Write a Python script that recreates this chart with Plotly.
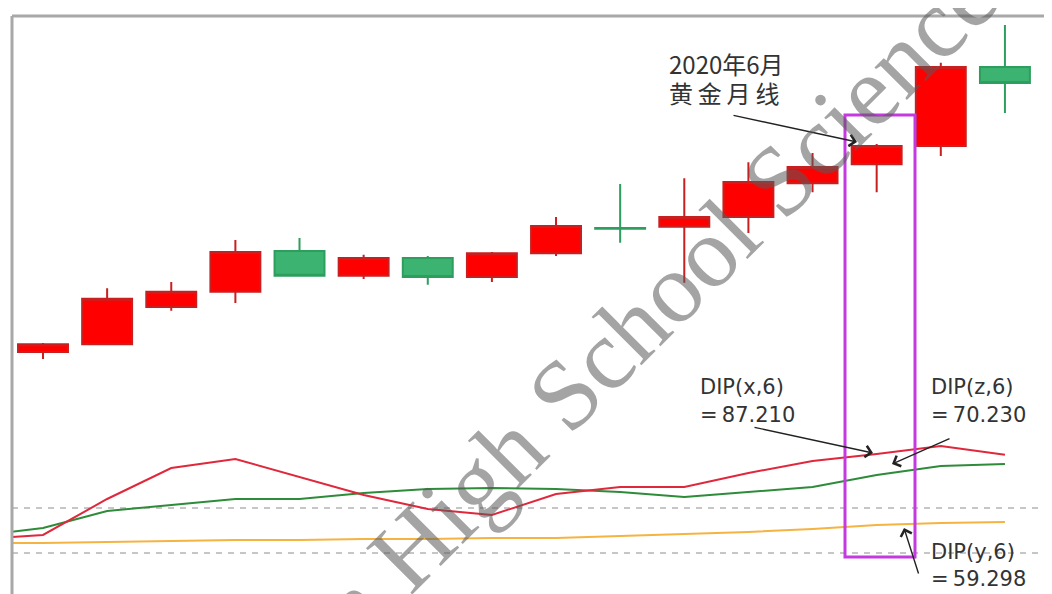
import plotly.graph_objects as go

# ---------------- data ----------------
MONTHS = ["2019-04", "2019-05", "2019-06", "2019-07", "2019-08", "2019-09", "2019-10",
          "2019-11", "2019-12", "2020-01", "2020-02", "2020-03", "2020-04", "2020-05",
          "2020-06", "2020-07", "2020-08"]
CANDLE_MONTHS = MONTHS[1:]

OPEN = [1283, 1302, 1392, 1429, 1528, 1468, 1511, 1465, 1523, 1584, 1587, 1611, 1693, 1739, 1783, 1975]
HIGH = [1305, 1438, 1453, 1555, 1560, 1519, 1516, 1526, 1611, 1691, 1705, 1744, 1766, 1788, 1985, 2077]
LOW = [1266, 1302, 1383, 1402, 1468, 1460, 1446, 1453, 1516, 1548, 1451, 1572, 1671, 1671, 1759, 1863]
CLOSE = [1302, 1412, 1429, 1526, 1468, 1511, 1465, 1523, 1589, 1582, 1611, 1696, 1732, 1783, 1975, 1936]

DIP_X = [53.80, 55.37, 69.52, 81.71, 85.24, 78.17, 71.09, 65.59, 63.23, 71.48, 74.24, 74.24,
         79.74, 84.46, 87.21, 90.35, 86.90]
DIP_Z = [54.97, 58.12, 64.80, 67.16, 69.52, 69.52, 71.88, 73.45, 73.84, 73.45, 72.27, 70.31,
         72.27, 74.24, 78.95, 82.49, 83.28]
DIP_Y = [52.22, 52.22, 52.62, 53.01, 53.40, 53.40, 53.80, 53.80, 54.19, 54.19, 54.97, 55.76,
         56.55, 57.73, 59.30, 60.08, 60.48]
LEVELS = [65.98, 48.29]

NOTE_LINES = ["2020年6月", "黄\u2009金\u2009月\u2009线"]
DIP_TEXTS = [("DIP(x,6)", "=\u200987.210"), ("DIP(z,6)", "=\u200970.230"), ("DIP(y,6)", "=\u200959.298")]
WATERMARK = "n High School Science"

# ---------------- layout helpers ----------------
# the page body has an 8px margin, so the figure starts at (8, 8) in the window
OFF = 8
W, H = 1052 - OFF, 594 - OFF
ML, MT = 12 - OFF, 16 - OFF
PW, PH = W - ML, H - MT


def fx(px):
    return (px - OFF - ML) / PW


def fy(py):
    return 1 - (py - OFF - MT) / PH


fig = go.Figure()

fig.add_trace(go.Candlestick(
    x=CANDLE_MONTHS, open=OPEN, high=HIGH, low=LOW, close=CLOSE,
    increasing=dict(fillcolor="#ff0000", line=dict(color="#c82020", width=2)),
    decreasing=dict(fillcolor="#3cb371", line=dict(color="#2e9e5e", width=2)),
    whiskerwidth=0, showlegend=False, hoverinfo="skip",
))

for vals, col in [(DIP_Y, "#f5b342"), (DIP_Z, "#2e8b3a"), (DIP_X, "#e0283c")]:
    fig.add_trace(go.Scatter(
        x=MONTHS, y=vals, yaxis="y2", mode="lines",
        line=dict(color=col, width=2), showlegend=False, hoverinfo="skip",
    ))

shapes = []
for lv in LEVELS:
    shapes.append(dict(type="line", xref="paper", x0=0, x1=1, yref="y2", y0=lv, y1=lv,
                       line=dict(color="#b4b4b4", width=1.5, dash="6px,6px"), layer="below"))
# frame
shapes.append(dict(type="line", xref="paper", yref="paper", x0=0, x1=1, y0=1, y1=1,
                   line=dict(color="#a8a8a8", width=3)))
shapes.append(dict(type="line", xref="paper", yref="paper", x0=0, x1=0, y0=0, y1=1,
                   line=dict(color="#a8a8a8", width=3)))
# highlight box around 2020-06
shapes.append(dict(type="rect", xref="paper", yref="paper",
                   x0=fx(845), x1=fx(915), y0=fy(557), y1=fy(115),
                   line=dict(color="#c43ae0", width=3), layer="above"))

annotations = []
for t, yy in zip(NOTE_LINES, [63, 93]):
    annotations.append(dict(xref="paper", yref="paper", x=fx(667), y=fy(yy), text=t,
                            showarrow=False, xanchor="left", yanchor="middle", align="left",
                            font=dict(family="Noto Sans CJK SC", size=24, color="#333333")))
dip_pos = [(698, 387, 415), (929, 387, 415), (929, 552, 579)]
for (l1, l2), (xx, y1, y2) in zip(DIP_TEXTS, dip_pos):
    for t, yy in [(l1, y1), (l2, y2)]:
        annotations.append(dict(xref="paper", yref="paper", x=fx(xx), y=fy(yy), text=t,
                                showarrow=False, xanchor="left", yanchor="middle",
                                font=dict(family="DejaVu Sans", size=21, color="#333333")))

arrows = [((732, 115), (857, 142)), ((753, 427), (873, 453)),
          ((951, 438), (892, 464)), ((919, 575), (904, 528))]
for (tx, ty), (hx, hy) in arrows:
    annotations.append(dict(xref="paper", yref="paper", x=fx(hx), y=fy(hy), text="",
                            showarrow=True, axref="pixel", ayref="pixel",
                            ax=tx - hx, ay=ty - hy, arrowhead=4, arrowsize=1.6,
                            arrowwidth=1.4, arrowcolor="#222222", standoff=0))

annotations.append(dict(xref="paper", yref="paper", x=fx(657), y=fy(303), text=WATERMARK,
                        showarrow=False, textangle=-45, xanchor="center", yanchor="middle",
                        font=dict(family="Liberation Serif", size=100,
                                  color="rgba(90,90,90,0.55)")))

fig.update_layout(
    width=W, height=H,
    margin=dict(l=ML, r=0, t=MT, b=0, pad=0),
    paper_bgcolor="white", plot_bgcolor="white",
    showlegend=False,
    boxgap=0.12, boxgroupgap=0.115,
    xaxis=dict(type="category", categoryorder="array", categoryarray=MONTHS,
               range=[0.5166, 16.734], showgrid=False, zeroline=False, showline=False,
               showticklabels=False, ticks="", rangeslider=dict(visible=False)),
    yaxis=dict(range=[695.4, 2098.8], showgrid=False, zeroline=False, showline=False,
               showticklabels=False, ticks=""),
    yaxis2=dict(range=[32.17, 259.39], overlaying="y", showgrid=False, zeroline=False,
                showline=False, showticklabels=False, ticks=""),
    shapes=shapes,
    annotations=annotations,
)

fig.write_html("out.html")
